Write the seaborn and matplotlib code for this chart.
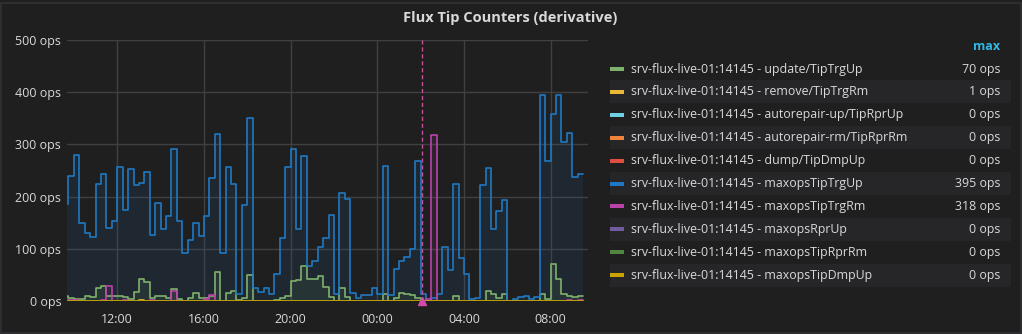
import numpy as np
import pandas as pd
import matplotlib
matplotlib.use("Agg")
import matplotlib.pyplot as plt
from matplotlib.patches import Rectangle
import seaborn as sns

# ---------------- data ----------------
# 15-minute samples, hours since midnight of day 0 (09:30 -> 09:30 next day)
start_hour = 9.5
step_hours = 0.25
n_steps = 96

series_names = [
    "srv-flux-live-01:14145 - update/TipTrgUp",
    "srv-flux-live-01:14145 - remove/TipTrgRm",
    "srv-flux-live-01:14145 - autorepair-up/TipRprUp",
    "srv-flux-live-01:14145 - autorepair-rm/TipRprRm",
    "srv-flux-live-01:14145 - dump/TipDmpUp",
    "srv-flux-live-01:14145 - maxopsTipTrgUp",
    "srv-flux-live-01:14145 - maxopsTipTrgRm",
    "srv-flux-live-01:14145 - maxopsRprUp",
    "srv-flux-live-01:14145 - maxopsTipRprRm",
    "srv-flux-live-01:14145 - maxopsTipDmpUp",
]
series_colors = ["#7EB26D", "#EAB839", "#6ED0E0", "#EF843C", "#E24D42",
                 "#1F78C1", "#BA43A9", "#705DA0", "#508642", "#CCA300"]

update_up = [10, 6, 3, 4, 10, 8, 24, 29, 10, 10,
             9, 7, 3, 18, 43, 37, 6, 10, 10, 6,
             23, 4, 0, 5, 15, 5, 5, 9, 56, 0,
             15, 20, 2, 5, 49, 0, 0, 0, 0, 2,
             5, 10, 38, 40, 68, 43, 42, 47, 27, 8,
             0, 24, 8, 0, 0, 0, 0, 0, 0, 13,
             0, 5, 15, 14, 11, 6, 0, 0, 0, 0,
             0, 0, 9, 0, 0, 0, 0, 0, 20, 13,
             5, 13, 0, 0, 0, 0, 0, 0, 14, 3,
             70, 42, 14, 10, 8, 9]
remove_rm = [0] * 14 + [1] + [0] * 81
zeros = [0] * 96
maxops_trg_up = [186, 239, 279, 149, 131, 122, 225, 243, 140, 153,
                 257, 174, 252, 223, 227, 248, 126, 187, 137, 162,
                 291, 153, 91, 117, 149, 125, 162, 235, 319, 92,
                 257, 225, 13, 183, 350, 24, 17, 25, 13, 51,
                 120, 257, 291, 138, 278, 68, 77, 104, 121, 164,
                 13, 206, 196, 15, 6, 11, 11, 24, 13, 259,
                 11, 61, 76, 84, 100, 268, 13, 0, 5, 13,
                 103, 59, 225, 83, 52, 3, 5, 222, 254, 137,
                 172, 193, 0, 4, 7, 9, 3, 8, 395, 269,
                 358, 395, 304, 322, 238, 243]
maxops_trg_rm = [0, 2, 1, 0, 0, 0, 0, 2, 29, 0,
                 0, 2, 0, 0, 0, 0, 2, 0, 0, 0,
                 20, 0, 0, 0, 0, 0, 3, 12, 0, 0,
                 0, 0, 0, 0, 0, 0, 0, 0, 0, 0,
                 0, 0, 0, 0, 0, 0, 0, 0, 0, 0,
                 0, 0, 0, 0, 0, 0, 0, 0, 0, 0,
                 0, 0, 0, 0, 0, 0, 0, 4, 318, 0,
                 0, 0, 0, 0, 0, 0, 0, 0, 0, 0,
                 0, 0, 0, 0, 0, 0, 0, 0, 0, 0,
                 0, 0, 0, 2, 0, 2]
series_values = [update_up, remove_rm, zeros, zeros, zeros,
                 maxops_trg_up, maxops_trg_rm, zeros, zeros, zeros]

y_ticks = [0, 100, 200, 300, 400, 500]
y_tick_labels = ["0 ops", "100 ops", "200 ops", "300 ops", "400 ops", "500 ops"]
x_ticks = [12, 16, 20, 24, 28, 32]
x_tick_labels = ["12:00", "16:00", "20:00", "00:00", "04:00", "08:00"]
x_range = (9.667, 33.71)
hover_hour = 26.05
title = "Flux Tip Counters (derivative)"
legend_header = "max"

# ---------------- style ----------------
BG = "#1f1f20"
TXT = "#d8d9da"
GRID = "#404042"

sns.set_theme(style="dark")
plt.rcParams["font.family"] = ["Open Sans", "DejaVu Sans"]

W, H = 1022, 334
fig = plt.figure(figsize=(W / 100, H / 100), dpi=100, facecolor=BG)

def fx(px):
    return px / W

def fy(py):
    return 1 - py / H

ax = fig.add_axes([fx(66.7), fy(301), fx(587.7) - fx(66.7), fy(40) - fy(301)])
ax.set_facecolor(BG)

times = start_hour + step_hours * np.arange(n_steps + 1)
frames = []
for name, vals in zip(series_names, series_values):
    v = list(vals) + [vals[-1]]
    frames.append(pd.DataFrame({"time": times, "value": v, "series": name}))
df = pd.concat(frames, ignore_index=True)

for name, col in zip(series_names, series_colors):
    sub = df[df["series"] == name]
    ax.fill_between(sub["time"], 0, sub["value"], step="post",
                    color=col, alpha=0.1, linewidth=0)
    sns.lineplot(data=sub, x="time", y="value", color=col, ax=ax,
                 drawstyle="steps-post", estimator=None, linewidth=1.2,
                 legend=False)

# hover crosshair
ax.axvline(hover_hour, color="#c94c9e", linewidth=1.0, linestyle=(0, (3, 2)))
ax.plot([hover_hour], [0], marker="^", markersize=5.5, color="#d44aa8",
        clip_on=False, zorder=5)

ax.set_xlim(*x_range)
ax.set_ylim(0, 500)
ax.set_xticks(x_ticks)
ax.set_xticklabels(x_tick_labels)
ax.set_yticks(y_ticks)
ax.set_yticklabels(y_tick_labels)
ax.tick_params(axis="both", length=0, colors=TXT, labelsize=9)
ax.tick_params(axis="x", pad=8.5)
ax.tick_params(axis="y", pad=4)
ax.grid(True, color=GRID, linewidth=1.0)
ax.set_axisbelow(True)
ax.set_xlabel("")
ax.set_ylabel("")
for s in ax.spines.values():
    s.set_visible(False)

# title
fig.text(fx(510), fy(18), title, ha="center", va="center", color=TXT,
         fontsize=10.5, fontweight="bold")

# panel border
fig.patches.append(Rectangle((fx(1), fy(333)), fx(1020), fy(3) - fy(333),
                             transform=fig.transFigure, fill=False,
                             edgecolor="#2e2e30", linewidth=1.5))

# legend table
fig.text(fx(1000), fy(46.7), legend_header, ha="right", va="center",
         color="#33B5E5", fontsize=9, fontweight="bold")
row0, row_h = 69.0, 22.9
for i, (name, col, vals) in enumerate(zip(series_names, series_colors, series_values)):
    yc = row0 + i * row_h
    if i % 2 == 1:
        fig.patches.append(Rectangle((fx(610), fy(yc + row_h / 2)),
                                     fx(1011) - fx(610), row_h / H,
                                     transform=fig.transFigure,
                                     facecolor="#262628", edgecolor="none",
                                     zorder=0))
    fig.patches.append(Rectangle((fx(610), fy(yc + 2)), fx(14), 4 / H,
                                 transform=fig.transFigure,
                                 facecolor=col, edgecolor="none", zorder=2))
    fig.text(fx(631), fy(yc), name, ha="left", va="center", color=TXT,
             fontsize=8.9)
    fig.text(fx(1000), fy(yc), f"{max(vals):.0f} ops", ha="right",
             va="center", color=TXT, fontsize=8.9)

fig.savefig("out.png", dpi=100, facecolor=BG)
